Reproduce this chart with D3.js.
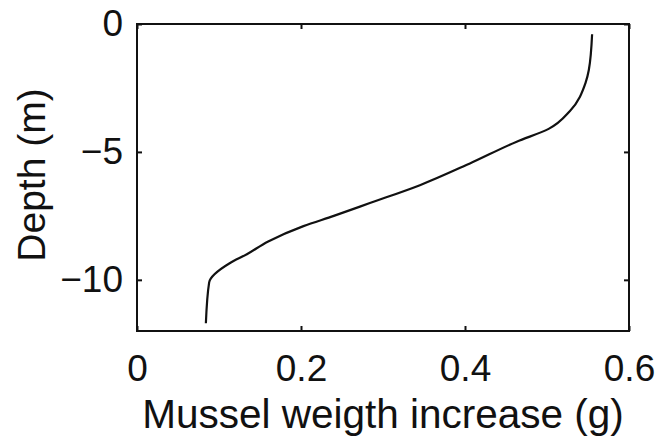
<!DOCTYPE html>
<html>
  <head>
    <meta charset="utf-8">
    <script src="https://d3js.org/d3.v7.min.js"></script>
    <style>
      body { margin: 0; background: #fff; }
      .axis text { font-family: "Liberation Sans", Arial, sans-serif; }
    </style>
  </head>
  <body>
    <svg width="659" height="439"></svg>
    <script>
    // depth (m) and weight increase (g)
    var depth  = [-0.4, -1.8, -2.3, -3.4, -4.1, -4.6, -5.45, -6.3, -7.0, -7.5, -7.9, -8.5, -9.0, -9.35, -10.1, -11.7];
    var weight = [0.555, 0.551, 0.547, 0.528, 0.502, 0.463, 0.406, 0.345, 0.284, 0.240, 0.203, 0.160, 0.134, 0.113, 0.088, 0.084];

    var xTicks = [0, 0.2, 0.4, 0.6];
    var yTicks = [0, -5, -10];

    var svg = d3.select("svg");
    var margin = {top: 24, right: 30, bottom: 108, left: 137};
    var width = +svg.attr("width") - margin.left - margin.right;
    var height = +svg.attr("height") - margin.top - margin.bottom;

    var g = svg.append("g").attr("transform", "translate(" + margin.left + "," + margin.top + ")");

    var x = d3.scaleLinear().domain([0, 0.6]).range([0, width]);
    var y = d3.scaleLinear().domain([-12, 0]).range([height, 0]);

    var fmtX = function(d) { return d === 0 ? "0" : d3.format(".1f")(d); };

    //bottom axis with labels, ticks pointing in
    var xb = g.append("g")
        .attr("class", "axis")
        .attr("transform", "translate(0," + height + ")")
        .call(d3.axisBottom(x).tickValues(xTicks).tickSize(-5).tickPadding(24).tickFormat(fmtX));
    xb.selectAll("text").attr("font-size", 37).attr("fill", "#111").attr("dy", "0.71em");

    //top axis, ticks only
    g.append("g")
        .attr("class", "axis")
        .call(d3.axisTop(x).tickValues(xTicks).tickSize(-5).tickFormat(""));

    //left axis with labels
    var yl = g.append("g")
        .attr("class", "axis")
        .call(d3.axisLeft(y).tickValues(yTicks).tickSize(-5).tickPadding(14));
    yl.selectAll("text").attr("font-size", 37).attr("fill", "#111");

    //right axis, ticks only
    g.append("g")
        .attr("class", "axis")
        .attr("transform", "translate(" + width + ",0)")
        .call(d3.axisRight(y).tickValues(yTicks).tickSize(-5).tickFormat(""));

    g.selectAll(".axis .domain").remove();
    g.selectAll(".axis line").attr("stroke", "#111").attr("stroke-width", 2);

    //frame
    g.append("rect")
        .attr("width", width)
        .attr("height", height)
        .attr("fill", "none")
        .attr("stroke", "#111")
        .attr("stroke-width", 2);

    //curve
    var pts = depth.map(function(d, i) { return [weight[i], d]; });
    g.append("path")
        .datum(pts)
        .attr("fill", "none")
        .attr("stroke", "#111")
        .attr("stroke-width", 2.2)
        .attr("stroke-linejoin", "round")
        .attr("d", d3.line()
          .x(function(d) { return x(d[0]); })
          .y(function(d) { return y(d[1]); })
          .curve(d3.curveMonotoneY));

    //axis titles
    svg.append("text")
        .attr("x", 383)
        .attr("y", 428)
        .attr("text-anchor", "middle")
        .attr("font-family", "Liberation Sans, Arial, sans-serif")
        .attr("font-size", 40.5)
        .attr("fill", "#111")
        .text("Mussel weigth increase (g)");

    svg.append("text")
        .attr("transform", "translate(45,175) rotate(-90)")
        .attr("text-anchor", "middle")
        .attr("font-family", "Liberation Sans, Arial, sans-serif")
        .attr("font-size", 39)
        .attr("fill", "#111")
        .text("Depth (m)");
    </script>
  </body>
</html>
